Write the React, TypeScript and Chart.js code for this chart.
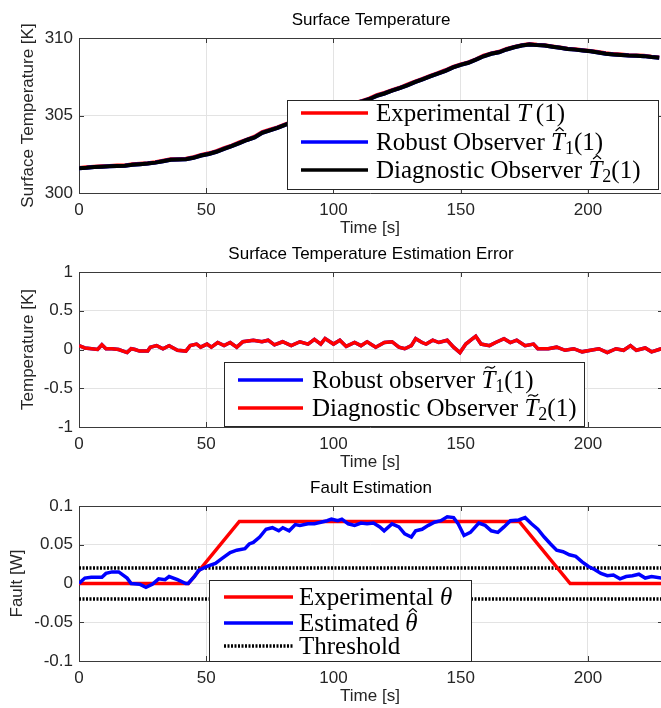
import React, { useEffect, useRef } from 'react';
import { Chart, registerables } from 'chart.js';
Chart.register(...registerables);

// ---------- Panel 1: surface temperature ----------
const tempTime = [0, 3, 6, 9, 12, 15, 18, 21, 24, 27, 30, 33, 36, 39, 42, 45, 48, 51, 54, 57, 60, 63, 66, 69, 72, 75, 78, 81, 84, 87, 90, 93, 96, 99, 102, 105, 108, 111, 114, 117, 120, 123, 126, 129, 132, 135, 138, 141, 144, 147, 150, 153, 156, 159, 162, 165, 168, 171, 174, 177, 180, 183, 186, 189, 192, 195, 198, 201, 204, 207, 210, 213, 216, 219, 222, 225, 228];
const tempExperimental = [301.62, 301.66, 301.7, 301.73, 301.74, 301.77, 301.78, 301.85, 301.88, 301.92, 301.99, 302.08, 302.17, 302.18, 302.21, 302.31, 302.45, 302.56, 302.7, 302.89, 303.06, 303.26, 303.45, 303.63, 303.93, 304.08, 304.23, 304.43, 304.6, 304.78, 304.95, 305.1, 305.25, 305.4, 305.52, 305.65, 305.8, 305.93, 306.09, 306.31, 306.46, 306.63, 306.79, 306.99, 307.19, 307.36, 307.56, 307.73, 307.92, 308.13, 308.3, 308.43, 308.63, 308.86, 309.01, 309.11, 309.29, 309.43, 309.54, 309.61, 309.56, 309.53, 309.46, 309.39, 309.31, 309.27, 309.21, 309.16, 309.09, 309.01, 308.96, 308.93, 308.89, 308.87, 308.85, 308.79, 308.75];
const tempDiagnostic = [301.6, 301.63, 301.68, 301.7, 301.72, 301.74, 301.76, 301.82, 301.86, 301.9, 301.96, 302.05, 302.15, 302.16, 302.18, 302.27, 302.42, 302.52, 302.66, 302.85, 303.02, 303.22, 303.42, 303.58, 303.88, 304.04, 304.2, 304.4, 304.57, 304.75, 304.92, 305.07, 305.22, 305.37, 305.49, 305.62, 305.77, 305.9, 306.05, 306.27, 306.42, 306.6, 306.76, 306.95, 307.15, 307.33, 307.52, 307.7, 307.88, 308.1, 308.27, 308.4, 308.6, 308.82, 308.98, 309.08, 309.26, 309.4, 309.52, 309.58, 309.54, 309.51, 309.44, 309.37, 309.29, 309.25, 309.19, 309.14, 309.07, 308.99, 308.94, 308.91, 308.87, 308.85, 308.83, 308.77, 308.73];
const tempRobust = tempDiagnostic; // drawn beneath the diagnostic observer, coincides with it

// ---------- Panel 2: estimation error ----------
const errTime = [0, 2.3, 5, 7.3, 9, 10.6, 13, 15.6, 18.9, 20.5, 22, 23.8, 27, 28, 30.5, 33, 35.4, 38.7, 42, 43.7, 46.2, 47.8, 50.3, 52, 54.5, 57, 59.4, 62, 64.4, 68.5, 71.9, 74.3, 76.8, 80, 83.4, 86.8, 90, 92.5, 95, 96.7, 100, 102.5, 105, 108.3, 110.8, 113.2, 116.6, 120, 123, 125.7, 128, 130.6, 132.3, 134.8, 136.4, 139, 141.4, 144.7, 147.2, 149.7, 152, 154.3, 155.9, 158, 161.3, 163.7, 167, 169.5, 172, 175.3, 178.6, 180.3, 184.4, 187.7, 191, 194.4, 197.7, 201, 204.3, 207.6, 211, 214, 216.7, 219, 222.5, 225, 228.8];
const errDiagnostic = [0.05, 0.02, 0.01, 0.0, 0.06, 0.01, 0.01, 0.0, -0.04, 0.01, 0.0, -0.02, -0.02, 0.03, 0.05, 0.01, 0.05, -0.01, -0.02, 0.05, 0.07, 0.03, 0.07, 0.03, 0.09, 0.05, 0.09, 0.03, 0.1, 0.12, 0.1, 0.12, 0.06, 0.1, 0.05, 0.1, 0.07, 0.13, 0.07, 0.14, 0.07, 0.12, 0.04, 0.09, 0.05, 0.1, 0.03, 0.09, 0.1, 0.03, 0.01, 0.05, 0.14, 0.09, 0.07, 0.12, 0.09, 0.12, 0.03, -0.04, 0.07, 0.13, 0.17, 0.07, 0.05, 0.09, 0.14, 0.09, 0.12, 0.05, 0.07, 0.01, 0.01, 0.03, -0.01, 0.01, -0.03, -0.01, 0.01, -0.04, 0.01, -0.01, 0.05, -0.01, 0.02, -0.03, 0.01];
const errRobust = errDiagnostic; // hidden under the diagnostic observer curve

// ---------- Panel 3: fault estimation ----------
const faultExpTime = [0, 43, 63, 173, 193, 230];
const faultExperimental = [0, 0, 0.08, 0.08, 0, 0];
const faultEstTime = [0, 2.3, 4.8, 9, 10.6, 13, 15.6, 18.9, 20.5, 23.8, 26.3, 28.8, 31.3, 33.8, 35.4, 38.7, 42, 42.9, 45.4, 47, 50.3, 53.6, 56.1, 59.4, 62, 65.2, 66.9, 68.5, 71, 73.5, 76, 78.5, 80.1, 82.6, 85, 86.8, 90, 92.5, 95, 97.5, 99.2, 101.7, 103.3, 105.8, 108.3, 110.8, 113.2, 115.7, 118.2, 119.9, 123, 125.7, 128, 130.6, 132.3, 134.8, 137.3, 139.7, 142.2, 144.7, 147.2, 149, 151.3, 153.8, 157.1, 159.6, 162, 164.6, 167, 169.5, 172.8, 175.3, 177.8, 180.3, 182.8, 185.3, 187.7, 190.2, 192.7, 195.2, 197.7, 200.2, 202.6, 205.1, 207.6, 210, 212.6, 215, 217.5, 220, 222.5, 225, 228.8];
const faultEstimated = [0.0, 0.007, 0.008, 0.008, 0.013, 0.015, 0.015, 0.007, 0.0, -0.001, -0.005, -0.001, 0.006, 0.005, 0.009, 0.005, 0.0, 0.0, 0.009, 0.017, 0.022, 0.026, 0.032, 0.04, 0.043, 0.045, 0.051, 0.053, 0.06, 0.07, 0.072, 0.068, 0.072, 0.068, 0.076, 0.075, 0.077, 0.077, 0.079, 0.081, 0.083, 0.081, 0.083, 0.077, 0.075, 0.078, 0.077, 0.078, 0.073, 0.068, 0.077, 0.073, 0.064, 0.06, 0.068, 0.07, 0.075, 0.079, 0.081, 0.086, 0.085, 0.077, 0.062, 0.066, 0.078, 0.075, 0.068, 0.066, 0.073, 0.081, 0.082, 0.085, 0.077, 0.07, 0.06, 0.051, 0.043, 0.041, 0.037, 0.035, 0.028, 0.022, 0.018, 0.013, 0.01, 0.011, 0.006, 0.009, 0.01, 0.012, 0.007, 0.009, 0.007];
const thresholdTime = [0, 230];
const thresholdUpper = [0.02, 0.02];
const thresholdLower = [-0.02, -0.02];

// ---------- ticks ----------
const xTicks = [0, 50, 100, 150, 200];
const tempTicks = [300, 305, 310];
const errTicks = [-1, -0.5, 0, 0.5, 1];
const faultTicks = [-0.1, -0.05, 0, 0.05, 0.1];

const SANS = '"Liberation Sans", Arial, Helvetica, sans-serif';
const SERIF = '"Liberation Serif", "Times New Roman", serif';
const AXIS = '#3a3a3a';
const TXT = '#262626';
const GRID = '#e3e3e3';
const X_MAX = 228.7;
const CANVAS_W = 661;
const CANVAS_H = 232;
const PAD_TOP = 30;

const pts = (xs: number[], ys: number[]) => xs.map((x, i) => ({ x, y: ys[i] }));

type Part = { t: string; it?: boolean; acc?: 'hat' | 'tilde'; sub?: string };
type LegendItem = { color: string; width: number; dash?: number[]; parts: Part[] };
type LegendSpec = { box: number[]; rows: number[]; sample: number[]; textX: number; items: LegendItem[] };

const LFS = 25;

function drawMath(ctx: CanvasRenderingContext2D, parts: Part[], x: number, base: number) {
  let cx = x;
  ctx.fillStyle = '#000';
  ctx.textAlign = 'left';
  ctx.textBaseline = 'alphabetic';
  for (const p of parts) {
    ctx.font = `${p.it ? 'italic ' : ''}${LFS}px ${SERIF}`;
    ctx.fillText(p.t, cx, base);
    const w = ctx.measureText(p.t).width;
    if (p.acc) {
      const top = base - LFS * 0.66 - 3.5;
      const mx = cx + w * 0.62;
      ctx.save();
      ctx.strokeStyle = '#000';
      ctx.lineWidth = 1.2;
      ctx.beginPath();
      if (p.acc === 'hat') {
        ctx.moveTo(mx - 4, top + 1);
        ctx.lineTo(mx, top - 2.5);
        ctx.lineTo(mx + 4, top + 1);
      } else {
        ctx.moveTo(mx - 5, top + 0.5);
        ctx.bezierCurveTo(mx - 3, top - 2.5, mx - 1, top - 1, mx, top - 0.5);
        ctx.bezierCurveTo(mx + 1, top, mx + 3, top + 1.5, mx + 5, top - 2);
      }
      ctx.stroke();
      ctx.restore();
    }
    cx += w;
    if (p.sub) {
      ctx.font = `${Math.round(LFS * 0.7)}px ${SERIF}`;
      ctx.fillText(p.sub, cx, base + 4);
      cx += ctx.measureText(p.sub).width;
    }
  }
}

function makeLegendPlugin(spec: LegendSpec) {
  return {
    id: 'mlLegend',
    afterDraw(chart: any) {
      const { ctx, chartArea: a } = chart;
      ctx.save();
      const bx = a.left + spec.box[0];
      const by = a.top + spec.box[1];
      const bw = spec.box[2];
      const bh = spec.box[3];
      ctx.fillStyle = '#fff';
      ctx.fillRect(bx, by, bw, bh);
      ctx.strokeStyle = TXT;
      ctx.lineWidth = 1;
      ctx.strokeRect(Math.round(bx) + 0.5, Math.round(by) + 0.5, bw - 1, bh - 1);
      spec.items.forEach((it, i) => {
        const y = a.top + spec.rows[i];
        ctx.strokeStyle = it.color;
        ctx.lineWidth = it.width;
        ctx.setLineDash(it.dash || []);
        ctx.beginPath();
        ctx.moveTo(a.left + spec.sample[0], y);
        ctx.lineTo(a.left + spec.sample[1], y);
        ctx.stroke();
        ctx.setLineDash([]);
        drawMath(ctx, it.parts, a.left + spec.textX, y + 8);
      });
      ctx.restore();
    },
  };
}

function makeTitlePlugin(title: string) {
  return {
    id: 'mlTitle',
    afterDraw(chart: any) {
      const { ctx, chartArea: a } = chart;
      ctx.save();
      ctx.font = `17px ${SANS}`;
      ctx.fillStyle = '#000';
      ctx.textAlign = 'center';
      ctx.textBaseline = 'middle';
      ctx.fillText(title, (a.left + a.right) / 2 + 1, a.top - 18);
      ctx.restore();
    },
  };
}

const boxPlugin = {
  id: 'mlBox',
  beforeDatasetsDraw(chart: any) {
    const { ctx, chartArea: a, scales } = chart;
    ctx.save();
    ctx.strokeStyle = AXIS;
    ctx.lineWidth = 1;
    ctx.beginPath();
    ctx.moveTo(a.left, a.top + 0.5);
    ctx.lineTo(a.right, a.top + 0.5);
    for (const t of scales.x.ticks) {
      const px = Math.round(scales.x.getPixelForValue(t.value)) + 0.5;
      ctx.moveTo(px, a.bottom);
      ctx.lineTo(px, a.bottom - 5);
      ctx.moveTo(px, a.top);
      ctx.lineTo(px, a.top + 5);
    }
    for (const t of scales.y.ticks) {
      const py = Math.round(scales.y.getPixelForValue(t.value)) + 0.5;
      ctx.moveTo(a.left, py);
      ctx.lineTo(a.left + 5, py);
      ctx.moveTo(a.right + 2, py);
      ctx.lineTo(a.right - 3, py);
    }
    ctx.stroke();
    ctx.restore();
  },
};

type PanelSpec = {
  title: string;
  yLabel: string;
  yLabelPad: number;
  yMin: number;
  yMax: number;
  yTicks: number[];
  datasets: any[];
  legend: LegendSpec;
};

function buildConfig(p: PanelSpec): any {
  return {
    type: 'line',
    data: { datasets: p.datasets },
    plugins: [boxPlugin, makeTitlePlugin(p.title), makeLegendPlugin(p.legend)],
    options: {
      animation: false,
      responsive: false,
      maintainAspectRatio: false,
      devicePixelRatio: 1,
      layout: { padding: { top: PAD_TOP, left: 0, right: 0, bottom: 0 } },
      elements: { point: { radius: 0 }, line: { tension: 0 } },
      plugins: { legend: { display: false }, tooltip: { enabled: false }, title: { display: false } },
      scales: {
        x: {
          type: 'linear',
          min: 0,
          max: X_MAX,
          afterBuildTicks: (s: any) => {
            s.ticks = xTicks.map((v) => ({ value: v }));
          },
          afterFit: (s: any) => {
            s.height = CANVAS_H - PAD_TOP - 155;
          },
          ticks: { padding: 7, maxRotation: 0, autoSkip: false, color: TXT, font: { family: SANS, size: 17 }, callback: (v: number) => String(v) },
          grid: { color: GRID, lineWidth: 1, drawTicks: false },
          border: { display: true, color: AXIS, width: 1 },
          title: { display: true, text: 'Time [s]', color: TXT, font: { family: SANS, size: 17 }, padding: { top: 0, bottom: 1 } },
        },
        y: {
          type: 'linear',
          min: p.yMin,
          max: p.yMax,
          afterBuildTicks: (s: any) => {
            s.ticks = p.yTicks.map((v) => ({ value: v }));
          },
          afterFit: (s: any) => {
            s.width = 79;
          },
          ticks: { padding: 6, color: TXT, font: { family: SANS, size: 17 }, callback: (v: number) => String(v) },
          grid: { color: GRID, lineWidth: 1, drawTicks: false },
          border: { display: true, color: AXIS, width: 1 },
          title: { display: true, text: p.yLabel, color: TXT, font: { family: SANS, size: 17 }, padding: { top: p.yLabelPad, bottom: 0 } },
        },
      },
    },
  };
}

const line = (data: any[], color: string, width: number, dash?: number[]) => ({
  data,
  borderColor: color,
  backgroundColor: color,
  borderWidth: width,
  borderDash: dash || [],
  pointRadius: 0,
  fill: false,
  tension: 0,
});

const panel1: PanelSpec = {
  title: 'Surface Temperature',
  yLabel: 'Surface Temperature [K]',
  yLabelPad: 18,
  yMin: 300,
  yMax: 310,
  yTicks: tempTicks,
  datasets: [
    line(pts(tempTime, tempDiagnostic), '#000000', 4),
    line(pts(tempTime, tempRobust), '#0000ff', 4),
    line(pts(tempTime, tempExperimental), '#ff0000', 4),
  ],
  legend: {
    box: [208, 62, 372, 90],
    rows: [75, 104, 132],
    sample: [222, 289],
    textX: 297,
    items: [
      { color: '#ff0000', width: 3.5, parts: [{ t: 'Experimental ' }, { t: 'T', it: true }, { t: '\u2009(1)' }] },
      { color: '#0000ff', width: 3.5, parts: [{ t: 'Robust Observer ' }, { t: 'T', it: true, acc: 'hat', sub: '1' }, { t: '(1)' }] },
      { color: '#000000', width: 3.5, parts: [{ t: 'Diagnostic Observer ' }, { t: 'T', it: true, acc: 'hat', sub: '2' }, { t: '(1)' }] },
    ],
  },
};

const panel2: PanelSpec = {
  title: 'Surface Temperature Estimation Error',
  yLabel: 'Temperature [K]',
  yLabelPad: 18,
  yMin: -1,
  yMax: 1,
  yTicks: errTicks,
  datasets: [
    line(pts(errTime, errDiagnostic), '#ff0000', 3.5),
    line(pts(errTime, errRobust), '#0000ff', 3.5),
  ],
  legend: {
    box: [145, 90, 361, 65],
    rows: [108, 136],
    sample: [159, 224],
    textX: 233,
    items: [
      { color: '#0000ff', width: 3.5, parts: [{ t: 'Robust observer ' }, { t: 'T', it: true, acc: 'tilde', sub: '1' }, { t: '(1)' }] },
      { color: '#ff0000', width: 3.5, parts: [{ t: 'Diagnostic Observer ' }, { t: 'T', it: true, acc: 'tilde', sub: '2' }, { t: '(1)' }] },
    ],
  },
};

const panel3: PanelSpec = {
  title: 'Fault Estimation',
  yLabel: 'Fault [W]',
  yLabelPad: 7,
  yMin: -0.1,
  yMax: 0.1,
  yTicks: faultTicks,
  datasets: [
    line(pts(faultEstTime, faultEstimated), '#0000ff', 3.5),
    line(pts(faultExpTime, faultExperimental), '#ff0000', 3.5),
    line(pts(thresholdTime, thresholdUpper), '#000000', 3.5, [2, 1.5]),
    line(pts(thresholdTime, thresholdLower), '#000000', 3.5, [2, 1.5]),
  ],
  legend: {
    box: [130, 74, 263, 82],
    rows: [91, 117, 140],
    sample: [145, 214],
    textX: 220,
    items: [
      { color: '#ff0000', width: 3.5, parts: [{ t: 'Experimental ' }, { t: '\u03b8', it: true }] },
      { color: '#0000ff', width: 3.5, parts: [{ t: 'Estimated ' }, { t: '\u03b8', it: true, acc: 'hat' }] },
      { color: '#000000', width: 3.5, dash: [2, 1.5], parts: [{ t: 'Threshold' }] },
    ],
  },
};

function Panel({ top, spec }: { top: number; spec: PanelSpec }) {
  const ref = useRef<HTMLCanvasElement>(null);
  useEffect(() => {
    const chart = new Chart(ref.current as HTMLCanvasElement, buildConfig(spec));
    return () => chart.destroy();
  }, [spec]);
  return (
    <canvas
      ref={ref}
      width={CANVAS_W}
      height={CANVAS_H}
      style={{ position: 'absolute', left: 0, top, width: CANVAS_W, height: CANVAS_H, display: 'block' }}
    />
  );
}

export default function App() {
  return (
    <div style={{ position: 'absolute', left: 0, top: 0, width: 661, height: 708, overflow: 'hidden', background: '#fff' }}>
      <Panel top={38 - PAD_TOP} spec={panel1} />
      <Panel top={272 - PAD_TOP} spec={panel2} />
      <Panel top={506 - PAD_TOP} spec={panel3} />
    </div>
  );
}
